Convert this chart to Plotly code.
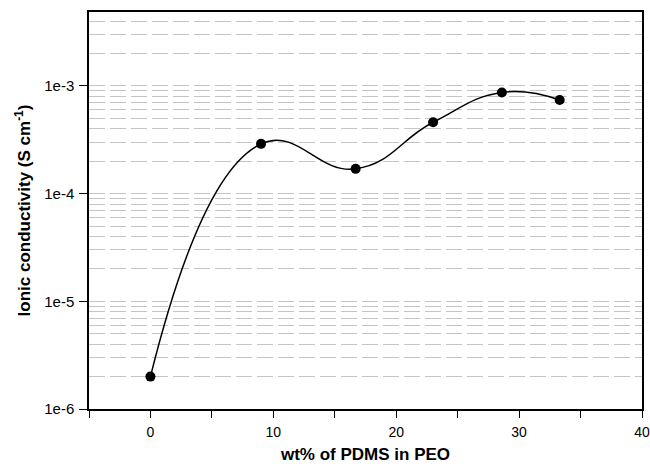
import plotly.graph_objects as go

# Data
wt_pdms = [0, 9.0, 16.7, 23.0, 28.6, 33.3]
conductivity = [2.0e-6, 2.9e-4, 1.7e-4, 4.6e-4, 8.7e-4, 7.4e-4]

x_tickvals = [0, 10, 20, 30, 40]
x_minorvals = [-5, 5, 15, 25, 35]
y_tickvals = [1e-6, 1e-5, 1e-4, 1e-3]
y_ticktext = ["1e-6", "1e-5", "1e-4", "1e-3"]
grid_vals = [m * 10.0 ** e for e in (-6, -5, -4, -3) for m in range(1, 10) if m * 10.0 ** e < 4.5e-3]

font = "Liberation Sans, Arial, sans-serif"
grid_color = "#c4c4c4"
grid_dash = "16px,5px"

fig = go.Figure()
fig.add_trace(go.Scatter(
    x=wt_pdms, y=conductivity, mode="lines+markers",
    line=dict(color="black", width=1.5, shape="spline", smoothing=1.3),
    marker=dict(color="black", size=10),
    showlegend=False, hoverinfo="skip",
))

fig.update_layout(
    width=650, height=466,
    margin=dict(l=89, r=8, t=12, b=57),
    paper_bgcolor="white", plot_bgcolor="white",
    font=dict(family=font, size=15, color="black"),
    xaxis=dict(
        range=[-5, 40], tickmode="array", tickvals=x_tickvals,
        ticks="outside", ticklen=7, tickwidth=1.2, tickcolor="black",
        tickfont=dict(size=14),
        showline=True, linecolor="black", linewidth=1.5, mirror=True,
        showgrid=False, zeroline=False, automargin=False, ticklabelstandoff=2,
        ticklabeloverflow="allow",
        minor=dict(tickmode="array", tickvals=x_minorvals, ticks="outside", ticklen=7,
                   tickwidth=1.2, tickcolor="black", showgrid=False),
        title=dict(text="<b>wt% of PDMS in PEO</b>", font=dict(size=17), standoff=10),
    ),
    yaxis=dict(
        type="log", range=[-6, -2.313], tickmode="array", tickvals=y_tickvals, ticktext=y_ticktext,
        ticks="outside", ticklen=8, tickwidth=1.2, tickcolor="black",
        showline=True, linecolor="black", linewidth=1.5, mirror=True,
        showgrid=True, gridcolor=grid_color, griddash=grid_dash, gridwidth=1,
        zeroline=False, automargin=False, ticklabelstandoff=2,
        minor=dict(tickmode="array", tickvals=grid_vals, showgrid=True, ticks="",
                   gridcolor=grid_color, griddash=grid_dash, gridwidth=1),
        title=dict(text="<b>Ionic conductivity (S cm<sup>-1</sup>)</b>", font=dict(size=17), standoff=9),
    ),
)

fig.write_html("out.html", config={"displayModeBar": False},
               post_script="document.body.style.margin='0px';")
